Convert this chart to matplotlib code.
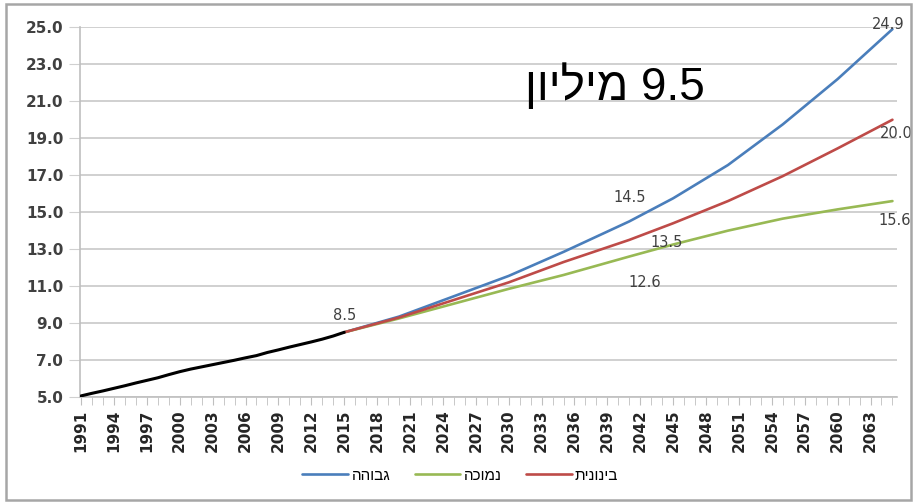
import numpy as np
import matplotlib.pyplot as plt
from matplotlib.patches import Rectangle
from matplotlib.ticker import FormatStrFormatter

# population in millions
hist_years = list(range(1991, 2016))
hist_pop = [5.06, 5.20, 5.33, 5.47, 5.61, 5.76, 5.90, 6.04, 6.21, 6.37,
            6.51, 6.63, 6.75, 6.87, 6.99, 7.12, 7.24, 7.41, 7.55, 7.70,
            7.84, 7.98, 8.13, 8.30, 8.50]

proj_years = [2015, 2020, 2025, 2030, 2035, 2041, 2045, 2050, 2055, 2060, 2065]
high = [8.5, 9.35, 10.45, 11.55, 12.85, 14.5, 15.75, 17.55, 19.75, 22.2, 24.9]
low = [8.5, 9.25, 10.05, 10.85, 11.6, 12.6, 13.25, 14.0, 14.65, 15.15, 15.6]
medium = [8.5, 9.3, 10.25, 11.2, 12.3, 13.5, 14.4, 15.6, 16.95, 18.45, 20.0]

names = {'high': 'גבוהה', 'low': 'נמוכה', 'medium': 'בינונית'}
headline_num = 9.5
headline_word = 'מיליון'


def rtl(s):
    # matplotlib lays glyphs out left to right, so flip hebrew words
    return s[::-1]


blue = '#4a7ebb'
green = '#98b954'
red = '#be4b48'
grey_txt = '#404040'

fig = plt.figure(figsize=(9.17, 5.04), dpi=100)
ax = fig.add_axes([0.0872, 0.2123, 0.8908, 0.7335])

l1, = ax.plot(proj_years, high, color=blue, lw=1.9, solid_capstyle='round')
l2, = ax.plot(proj_years, low, color=green, lw=1.9, solid_capstyle='round')
l3, = ax.plot(proj_years, medium, color=red, lw=1.9, solid_capstyle='round')
ax.plot(hist_years, hist_pop, color='black', lw=2.2, solid_capstyle='round', zorder=4)

ax.set_xlim(1990.9, 2065.4)
ax.set_ylim(5, 25)
ax.set_yticks(np.arange(5, 26, 2))
ax.yaxis.set_major_formatter(FormatStrFormatter('%.1f'))
ax.set_xticks(range(1991, 2064, 3))
ax.set_xticks(range(1991, 2066), minor=True)
ax.tick_params(axis='x', which='both', length=6, color='#bfbfbf', rotation=90,
               labelsize=11, labelcolor='#262626', pad=3)
ax.tick_params(axis='y', length=8, color='#d0d0d0', labelsize=11,
               labelcolor=grey_txt, pad=4)
for lab in ax.get_xticklabels() + ax.get_yticklabels():
    lab.set_fontweight('bold')

ax.grid(axis='y', color='#d0d0d0', lw=1.4)
ax.set_axisbelow(True)
for side in ['top', 'right']:
    ax.spines[side].set_visible(False)
ax.spines['left'].set_color('#bfbfbf')
ax.spines['bottom'].set_color('#bfbfbf')
ax.spines['left'].set_linewidth(1.2)
ax.spines['bottom'].set_linewidth(1.2)

# value labels
lab_kw = dict(textcoords='offset points', ha='center', va='center',
              fontsize=10.5, color=grey_txt, annotation_clip=False)
ax.annotate(f'{hist_pop[-1]:.1f}', (hist_years[-1], hist_pop[-1]), xytext=(0, 12), **lab_kw)
ax.annotate(f'{high[5]:.1f}', (proj_years[5], high[5]), xytext=(0, 17), **lab_kw)
ax.annotate(f'{medium[5]:.1f}', (proj_years[5], medium[5]), xytext=(27, -2), **lab_kw)
ax.annotate(f'{low[5]:.1f}', (proj_years[5], low[5]), xytext=(11, -19), **lab_kw)
ax.annotate(f'{high[-1]:.1f}', (proj_years[-1], high[-1]), xytext=(-3, 3), **lab_kw)
ax.annotate(f'{medium[-1]:.1f}', (proj_years[-1], medium[-1]), xytext=(2.5, -10), **lab_kw)
ax.annotate(f'{low[-1]:.1f}', (proj_years[-1], low[-1]), xytext=(1.5, -14), **lab_kw)

fig.text(0.671, 0.829, f'{rtl(headline_word)} {headline_num}', ha='center', va='center',
         fontsize=33, family='Liberation Sans', color='black')

fig.legend([l1, l2, l3], [rtl(names['high']), rtl(names['low']), rtl(names['medium'])],
           loc='center', bbox_to_anchor=(0.502, 0.056), ncol=3, frameon=False,
           handlelength=3.0, columnspacing=1.6, handletextpad=0.2,
           prop={'family': 'Liberation Sans', 'size': 11})

fig.patches.append(Rectangle((0.006, 0.008), 0.988, 0.984, transform=fig.transFigure,
                             fill=False, edgecolor='#a6a6a6', lw=1.8))

fig.savefig('out.png', dpi=100)
